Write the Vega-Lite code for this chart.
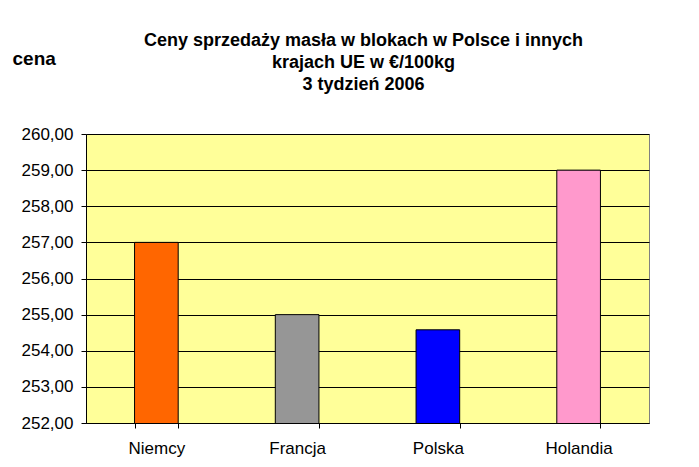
{
  "$schema": "https://vega.github.io/schema/vega-lite/v6.json",
  "autosize": {"type": "none"},
  "width": 563,
  "height": 289,
  "padding": {"left": 86, "top": 134, "right": 50, "bottom": 44},
  "background": "white",
  "config": {
    "font": "Liberation Sans",
    "view": {"fill": "#FFFF99", "stroke": "#808080", "strokeWidth": 1}
  },
  "title": {
    "text": ["Ceny sprzedaży masła w blokach w Polsce i  innych", "krajach UE w €/100kg", "3 tydzień 2006"],
    "font": "Liberation Sans",
    "fontSize": 18,
    "fontWeight": "bold",
    "lineHeight": 22,
    "color": "black",
    "anchor": "middle",
    "dx": -4,
    "offset": -45
  },
  "data": {
    "values": [
      {"kraj": "Niemcy", "cena": 257.0},
      {"kraj": "Francja", "cena": 255.0},
      {"kraj": "Polska", "cena": 254.58},
      {"kraj": "Holandia", "cena": 259.0}
    ]
  },
  "mark": {"type": "bar", "stroke": "black", "strokeWidth": 1, "clip": true},
  "encoding": {
    "x": {
      "field": "kraj",
      "type": "nominal",
      "sort": null,
      "scale": {"paddingInner": 0.69, "paddingOuter": 0.345},
      "axis": {
        "title": null,
        "labelAngle": 0,
        "labelFont": "Liberation Sans",
        "labelFontSize": 17,
        "labelColor": "black",
        "labelPadding": 12,
        "tickBand": "extent",
        "tickSize": 5,
        "tickColor": "black",
        "domainColor": "black",
        "grid": false
      }
    },
    "y": {
      "field": "cena",
      "type": "quantitative",
      "scale": {"domain": [252, 260], "zero": false, "nice": false},
      "axis": {
        "values": [252, 253, 254, 255, 256, 257, 258, 259, 260],
        "labelExpr": "replace(format(datum.value, '.2f'), '.', ',')",
        "labelFont": "Liberation Sans",
        "labelFontSize": 17,
        "labelColor": "black",
        "labelPadding": 8,
        "tickSize": 5,
        "tickColor": "black",
        "domainColor": "black",
        "grid": true,
        "gridColor": "black",
        "gridOpacity": 1,
        "gridWidth": 1,
        "title": "cena",
        "titleAngle": 0,
        "titleAlign": "left",
        "titleBaseline": "alphabetic",
        "titleX": -74,
        "titleY": -70,
        "titleFont": "Liberation Sans",
        "titleFontSize": 19,
        "titleFontWeight": "bold",
        "titleColor": "black"
      }
    },
    "color": {
      "field": "kraj",
      "type": "nominal",
      "scale": {
        "domain": ["Niemcy", "Francja", "Polska", "Holandia"],
        "range": ["#FF6600", "#969696", "#0000FF", "#FF99CC"]
      },
      "legend": null
    }
  }
}
